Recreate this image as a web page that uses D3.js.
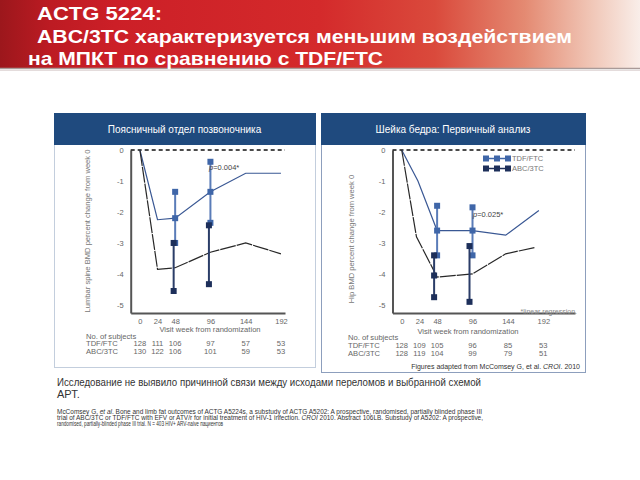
<!DOCTYPE html>
<html>
<head>
<meta charset="utf-8">
<script src="https://cdn.jsdelivr.net/npm/d3@7"></script>
<style>
  body { margin: 0; background: #fff; }
  svg { display: block; font-family: "Liberation Sans", Arial, sans-serif; }
</style>
</head>
<body>
<div id="chart"></div>
<script>
// ---- data ----
var tickWeeks = [0, 24, 48, 96, 144, 192];
var yTicks = [0, -1, -2, -3, -4, -5];

// lumbar spine (left panel)
var lumbarWeeks = [0, 24, 48, 96, 144, 192];
var lumbarTdf = [0, -2.25, -2.2, -1.35, -0.75, -0.75];
var lumbarAbc = [0, -3.85, -3.8, -3.3, -3.0, -3.35];
// [week, low, mean, high, mean marker shown]
var lumbarTdfBars = [[48, -3.0, -2.2, -1.35, 1], [96, -2.35, -1.35, -0.38, 1]];
var lumbarAbcBars = [[48, -4.55, -3.8, -3.0, 0], [96, -4.33, -3.3, -2.43, 0]];
var lumbarTdfN = [128, 111, 106, 97, 57, 53];
var lumbarAbcN = [130, 122, 106, 101, 59, 53];

// hip (right panel)
var hipTdfWeeks = [0, 22, 48, 96, 141, 186];
var hipAbcWeeks = [0, 20, 48, 96, 141, 180];
var hipTdf = [0, -1.0, -2.6, -2.6, -2.75, -1.95];
var hipAbc = [0, -2.8, -4.1, -4.0, -3.35, -3.15];
var hipTdfBars = [[48, -3.4, -2.6, -1.8, 1], [96, -3.4, -2.6, -1.85, 1]];
var hipAbcBars = [[48, -4.75, -4.05, -3.4, 1], [96, -4.9, -4.0, -3.1, 0]];
var hipTdfN = [128, 109, 105, 96, 85, 53];
var hipAbcN = [128, 119, 104, 99, 79, 51];

var seriesNames = ['TDF/FTC', 'ABC/3TC'];

var W = 640, H = 480;
var navy = '#1f4a7e',
    tdfCol = '#3f66a8',
    abcCol = '#1d2f5a',
    tdfLineCol = '#3a5894',
    abcLineCol = '#282828';

var svg = d3.select('#chart').append('svg')
  .attr('width', W)
  .attr('height', H)
  .attr('viewBox', '0 0 ' + W + ' ' + H);

// ---- header band ----
var defs = svg.append('defs');
var grad = defs.append('linearGradient').attr('id', 'band');
[[0, '#9c171c'], [0.08, '#bd1b23'], [0.18, '#cc1f27'], [0.5, '#d42a2b'],
 [0.68, '#da4a3c'], [0.82, '#e48a72'], [0.92, '#f0c4b4'], [1, '#f9eee9']]
  .forEach(function(s) {
    grad.append('stop').attr('offset', s[0]).attr('stop-color', s[1]);
  });

svg.append('rect').attr('x', 0).attr('y', 0).attr('width', W).attr('height', 68)
  .attr('fill', 'url(#band)');
svg.append('line').attr('x1', 0).attr('x2', W).attr('y1', 68.5).attr('y2', 68.5)
  .attr('stroke', '#a99a98').attr('stroke-width', 1.5);
svg.append('line').attr('x1', 0).attr('x2', W).attr('y1', 70.5).attr('y2', 70.5)
  .attr('stroke', '#e4dcdc').attr('stroke-width', 1);

var title = [
  {t: 'ACTG 5224:', x: 37, y: 20, len: 125},
  {t: 'ABC/3TC характеризуется меньшим воздействием', x: 37, y: 43, len: 535},
  {t: 'на МПКТ по сравнению с TDF/FTC', x: 28, y: 65, len: 355}
];
svg.selectAll('.title').data(title).enter().append('text')
  .attr('class', 'title')
  .attr('x', function(d) { return d.x; })
  .attr('y', function(d) { return d.y; })
  .attr('textLength', function(d) { return d.len; })
  .attr('lengthAdjust', 'spacingAndGlyphs')
  .style('font-size', '19px')
  .style('font-weight', 'bold')
  .style('fill', '#fff')
  .text(function(d) { return d.t; });

// ---- one chart panel ----
function drawPanel(cfg) {
  var g = svg.append('g');

  g.append('rect')
    .attr('x', cfg.box[0] + 0.5).attr('y', cfg.box[1] + 0.5)
    .attr('width', cfg.box[2] - cfg.box[0]).attr('height', cfg.box[3] - cfg.box[1])
    .attr('fill', '#fff').attr('stroke', cfg.border).attr('stroke-width', 1);
  g.append('rect')
    .attr('x', cfg.box[0]).attr('y', cfg.box[1])
    .attr('width', cfg.box[2] - cfg.box[0] + 1).attr('height', 32)
    .attr('fill', navy);
  g.append('text')
    .attr('x', (cfg.box[0] + cfg.box[2]) / 2).attr('y', cfg.box[1] + 20)
    .attr('text-anchor', 'middle')
    .style('font-size', '10px').style('fill', '#fff')
    .text(cfg.title);

  var x = d3.scaleLinear().domain(cfg.xDomain).range(cfg.xRange);
  var y = d3.scaleLinear().domain([0, -5.26]).range([150, 313]);

  // axes
  var ya = g.append('g').attr('transform', 'translate(' + cfg.xRange[0] + ',0)')
    .call(d3.axisLeft(y).tickValues(yTicks).tickSize(0).tickSizeOuter(0).tickPadding(7)
      .tickFormat(function(d) { return d === 0 ? '0' : '-' + Math.abs(d); }));
  var xa = g.append('g').attr('transform', 'translate(0,313)')
    .call(d3.axisBottom(x).tickValues(tickWeeks).tickSize(0).tickSizeOuter(0).tickPadding(6));
  [ya, xa].forEach(function(a) {
    a.select('.domain').attr('stroke', '#555').attr('stroke-width', 2);
    a.selectAll('text').style('font-size', '7.5px').style('fill', '#666')
      .style('font-family', '"Liberation Sans", Arial, sans-serif');
  });

  // zero reference
  g.append('line')
    .attr('x1', cfg.xRange[0]).attr('x2', cfg.xRange[1])
    .attr('y1', y(0)).attr('y2', y(0))
    .attr('stroke', '#111').attr('stroke-width', 1.6)
    .attr('stroke-dasharray', '4,3');

  g.append('text')
    .attr('transform', 'translate(' + cfg.yLabelX + ',' + cfg.yLabelY + ') rotate(-90)')
    .attr('text-anchor', 'middle')
    .style('font-size', '7.6px').style('fill', '#777')
    .text(cfg.yLabel);

  g.append('text')
    .attr('x', cfg.xLabelX).attr('y', cfg.xLabelY)
    .attr('text-anchor', 'middle')
    .style('font-size', '7.6px').style('fill', '#666')
    .text('Visit week from randomization');

  // mean lines
  var line = d3.line().x(function(d) { return x(d[0]); }).y(function(d) { return y(d[1]); });
  g.append('path')
    .datum(d3.zip(cfg.tdfWeeks, cfg.tdf))
    .attr('d', line).attr('fill', 'none')
    .attr('stroke', tdfLineCol).attr('stroke-width', 1.2);
  g.append('path')
    .datum(d3.zip(cfg.abcWeeks, cfg.abc))
    .attr('d', line).attr('fill', 'none')
    .attr('stroke', abcLineCol).attr('stroke-width', 1.2)
    .attr('stroke-dasharray', '16,1');

  // interval bars
  function bars(data, col, barCol, dx) {
    var b = g.append('g').selectAll('g').data(data).enter().append('g')
      .attr('transform', function(d) { return 'translate(' + (x(d[0]) + dx) + ',0)'; });
    b.append('line')
      .attr('y1', function(d) { return y(d[1]); })
      .attr('y2', function(d) { return y(d[3]); })
      .attr('stroke', barCol).attr('stroke-width', 2);
    b.selectAll('rect')
      .data(function(d) { return d[4] ? [d[1], d[2], d[3]] : [d[1], d[3]]; })
      .enter().append('rect')
      .attr('x', -3).attr('y', function(v) { return y(v) - 3; })
      .attr('width', 6).attr('height', 6)
      .attr('fill', col);
  }
  bars(cfg.tdfBars, tdfCol, '#5a7cb8', 0);
  bars(cfg.abcBars, abcCol, '#2b3d68', cfg.abcDx);

  // p value
  var p = g.append('text')
    .attr('x', cfg.pX).attr('y', cfg.pY)
    .style('font-size', '7.5px').style('fill', '#444');
  p.append('tspan').style('font-style', 'italic').text('p');
  p.append('tspan').text(cfg.pText);

  // subjects table
  var tb = g.append('g').style('font-size', '7.6px').style('fill', '#666');
  tb.append('text').attr('x', cfg.tableX).attr('y', cfg.tableY[0]).text('No. of subjects');
  [cfg.tdfN, cfg.abcN].forEach(function(ns, i) {
    tb.append('text').attr('x', cfg.tableX).attr('y', cfg.tableY[i + 1]).text(seriesNames[i]);
    tb.selectAll('.n' + i).data(ns).enter().append('text')
      .attr('x', function(d, j) { return x(tickWeeks[j]); })
      .attr('y', cfg.tableY[i + 1])
      .attr('text-anchor', 'middle')
      .text(function(d) { return d; });
  });

  return {g: g, x: x, y: y};
}

drawPanel({
  box: [54, 113, 315, 367],
  border: '#c3cedd',
  title: 'Поясничный отдел позвоночника',
  xDomain: [-12.5, 197.5], xRange: [130.7, 285],
  yLabel: 'Lumbar spine BMD percent change from week 0', yLabelX: 90, yLabelY: 231,
  xLabelX: 210, xLabelY: 332,
  tdfWeeks: lumbarWeeks, abcWeeks: lumbarWeeks,
  tdf: lumbarTdf, abc: lumbarAbc,
  tdfBars: lumbarTdfBars, abcBars: lumbarAbcBars, abcDx: -1.5,
  pX: 209, pY: 170, pText: '=0.004*',
  tableX: 86, tableY: [338.5, 346, 353.5],
  tdfN: lumbarTdfN, abcN: lumbarAbcN
});

var hip = drawPanel({
  box: [321, 113, 585, 372],
  border: '#8d9fbd',
  title: 'Шейка бедра: Первичный анализ',
  xDomain: [-12.5, 235], xRange: [392.5, 575],
  yLabel: 'Hip BMD percent change from week 0', yLabelX: 354, yLabelY: 239,
  xLabelX: 468, xLabelY: 334,
  tdfWeeks: hipTdfWeeks, abcWeeks: hipAbcWeeks,
  tdf: hipTdf, abc: hipAbc,
  tdfBars: hipTdfBars, abcBars: hipAbcBars, abcDx: -3,
  pX: 473, pY: 217, pText: '=0.025*',
  tableX: 348, tableY: [340, 348, 356],
  tdfN: hipTdfN, abcN: hipAbcN
});

// legend in hip panel
var lg = hip.g.append('g').selectAll('g').data(seriesNames).enter().append('g')
  .attr('transform', function(d, i) { return 'translate(0,' + (158.5 + i * 10) + ')'; });
lg.append('line').attr('x1', 486).attr('x2', 508)
  .attr('stroke', function(d, i) { return i ? abcCol : tdfCol; }).attr('stroke-width', 1.5);
lg.selectAll('rect').data(function(d, i) { return [i, i, i].map(function(v, k) { return [v, k]; }); })
  .enter().append('rect')
  .attr('x', function(d) { return 483 + d[1] * 11; }).attr('y', -3)
  .attr('width', 6).attr('height', 6)
  .attr('fill', function(d) { return d[0] ? abcCol : tdfCol; });
lg.append('text').attr('x', 512).attr('y', 2.8)
  .style('font-size', '7.5px').style('fill', '#777')
  .text(function(d) { return d; });

hip.g.append('text').attr('x', 577).attr('y', 314).attr('text-anchor', 'end')
  .style('font-size', '7px').style('fill', '#888').text('*linear regression.');

var src = hip.g.append('text').attr('x', 580).attr('y', 368.5).attr('text-anchor', 'end')
  .style('font-size', '7px').style('fill', '#333');
src.append('tspan').text('Figures adapted from McComsey G, et al. ');
src.append('tspan').style('font-style', 'italic').text('CROI');
src.append('tspan').text('. 2010');

// ---- notes under the panels ----
svg.append('text').attr('x', 57).attr('y', 385.5)
  .attr('textLength', 424).attr('lengthAdjust', 'spacingAndGlyphs')
  .style('font-size', '11px').style('fill', '#333')
  .text('Исследование не выявило причинной связи между исходами переломов и выбранной схемой');
svg.append('text').attr('x', 57).attr('y', 398)
  .style('font-size', '11px').style('fill', '#333').text('АРТ.');

var refs = [
  {parts: [['McComsey G, ', 0], ['et al', 1], ['. Bone and limb fat outcomes of ACTG A5224s, a substudy of ACTG A5202: A prospective, randomised, partially blinded phase III', 0]], len: 425},
  {parts: [['trial of ABC/3TC or TDF/FTC with EFV or ATV/r for initial treatment of HIV-1 infection. ', 0], ['CROI', 1], [' 2010. Abstract 106LB. Substudy of A5202: A prospective,', 0]], len: 426},
  {parts: [['randomised, partially-blinded phase III trial. N = 403 HIV+ ARV-naive пациентов', 0]], len: 166}
];
refs.forEach(function(r, i) {
  var t = svg.append('text').attr('x', 57).attr('y', 413.5 + i * 6.3)
    .attr('textLength', r.len).attr('lengthAdjust', 'spacingAndGlyphs')
    .style('font-size', '6.3px').style('fill', '#333');
  r.parts.forEach(function(p) {
    t.append('tspan').style('font-style', p[1] ? 'italic' : 'normal').text(p[0]);
  });
});
</script>
</body>
</html>
